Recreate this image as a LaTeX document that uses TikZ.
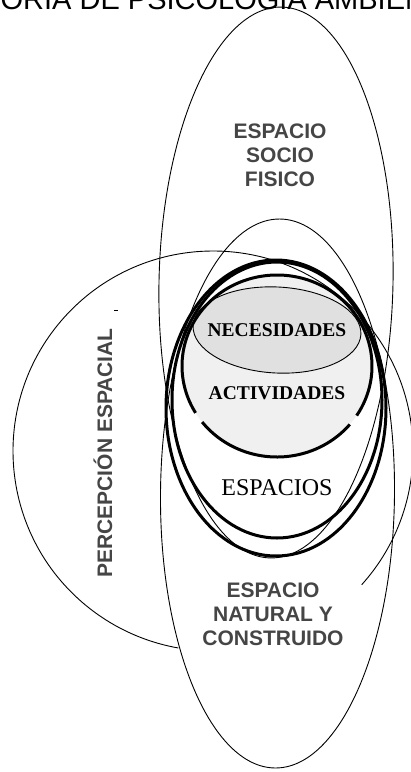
\documentclass[tikz,border=0pt]{standalone}
\usepackage{fontspec}
\setmainfont{Liberation Serif}
\newfontfamily\arialfont{Liberation Sans}

\begin{document}
\begin{tikzpicture}[x=1pt,y=1pt,
  thinline/.style={draw=black,line width=0.9pt},
  thickline/.style={draw=black,line width=3pt},
  region/.style={inner sep=0pt,text=black!73,align=center,font=\arialfont\bfseries\fontsize{21}{24}\selectfont},
  core/.style={inner sep=0pt,font=\bfseries\fontsize{19.5}{22}\selectfont}]
\useasboundingbox (0,0) rectangle (411,-772);
\clip (0,0) rectangle (411,-772);

% title, cut at the top edge
\node (title) at (-36.6,-9) [anchor=base west,inner sep=0pt,font=\arialfont\fontsize{29}{29}\selectfont] {TEORÍA DE PSICOLOGÍA AMBIENTAL};

% thin outlines
\draw[thinline,rotate around={-1.2:(276,-282.5)}] (276,-282.5) ellipse [x radius=117,y radius=275.5];
\draw[thinline,rotate around={-0.5:(277.5,-493.5)}] (277.5,-493.5) ellipse [x radius=117,y radius=274.5];
\draw[thinline] (213,-451) ++(-42:200) arc[start angle=-42,end angle=260,radius=200];
\draw[thinline] (114,-310) -- (118,-310);

% inner regions
\fill[black!6] (277,-366) ellipse [x radius=95,y radius=91];
\draw[thinline,fill=black!12,rotate around={-3:(277,-330)}] (277,-330) ellipse [x radius=84,y radius=43];
\draw[thickline] (276,-408) ellipse [x radius=110,y radius=148];
\draw[thickline] (277,-400) ellipse [x radius=105,y radius=138];
\draw[thickline] (277,-366) ++(218:95 and 91) arc[start angle=218,end angle=320,x radius=95,y radius=91];
\draw[thickline] (277,-366) ++(327:95 and 91) arc[start angle=327,end angle=571,x radius=95,y radius=91];

% labels
\node (socio) at (280,-155) [region] {ESPACIO\\SOCIO\\FISICO};
\node (natural) at (273,-614) [region] {ESPACIO\\NATURAL Y\\CONSTRUIDO};
\node (percep) at (103,-453) [region,rotate=90] {PERCEPCIÓN ESPACIAL};
\node (nec) at (277,-330) [core] {NECESIDADES};
\node (act) at (277,-393) [core] {ACTIVIDADES};
\node (esp) at (277,-488) [inner sep=0pt,font=\fontsize{24}{26}\selectfont] {ESPACIOS};
\end{tikzpicture}
\end{document}
